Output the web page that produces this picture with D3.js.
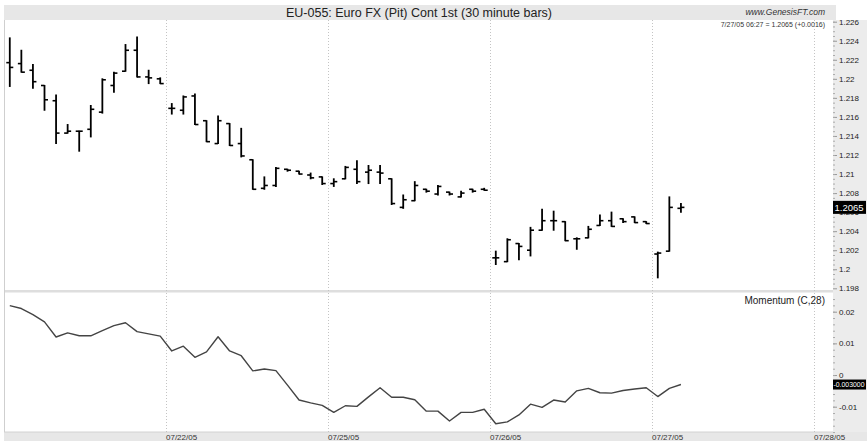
<!DOCTYPE html>
<html>
<head>
<meta charset="utf-8">
<script src="https://d3js.org/d3.v7.min.js"></script>
<style>
body { margin: 0; background: #fff; }
text { font-family: "Liberation Sans", Arial, Helvetica, sans-serif; }
</style>
</head>
<body>
<div id="chart"></div>
<script>
// 30 minute bars, 14 per session
const sessionBars = 14;
const dayLabels = ["07/21/05", "07/22/05", "07/25/05", "07/26/05", "07/27/05", "07/28/05"];

const opens = [1.2217, 1.2216, 1.2209, 1.2193, 1.2177, 1.2143, 1.2145, 1.2147, 1.2165, 1.2193, 1.2208, 1.2230, 1.2202, 1.2200,
    1.2169, 1.2167, 1.2182, 1.2156, 1.2132, 1.2153, 1.2132, 1.2115, 1.2085, 1.2088, 1.2105, 1.2103, 1.2099, 1.2097,
    1.2090, 1.2095, 1.2105, 1.2102, 1.2102, 1.2095, 1.2065, 1.2072, 1.2084, 1.2079, 1.2081, 1.2076, 1.2084, 1.2084,
    1.2012, 1.2008, 1.2027, 1.2020, 1.2041, 1.2051, 1.2050, 1.2032, 1.2033, 1.2046, 1.2051, 1.2053, 1.2055, 1.2050,
    1.2016, 1.2019, 1.2064];
const highs = [1.2243, 1.2230, 1.2215, 1.2193, 1.2183, 1.2152, 1.2145, 1.2172, 1.2200, 1.2207, 1.2236, 1.2244, 1.2209, 1.2201,
    1.2174, 1.2182, 1.2184, 1.2156, 1.2161, 1.2153, 1.2148, 1.2115, 1.2097, 1.2107, 1.2105, 1.2103, 1.2101, 1.2097,
    1.2095, 1.2108, 1.2114, 1.2109, 1.2109, 1.2095, 1.2078, 1.2092, 1.2084, 1.2088, 1.2081, 1.2082, 1.2084, 1.2085,
    1.2019, 1.2032, 1.2027, 1.2044, 1.2063, 1.2061, 1.2050, 1.2033, 1.2045, 1.2057, 1.2060, 1.2053, 1.2055, 1.2050,
    1.2018, 1.2076, 1.2069];
const lows = [1.2192, 1.2207, 1.2190, 1.2167, 1.2132, 1.2143, 1.2124, 1.2139, 1.2164, 1.2186, 1.2208, 1.2202, 1.2195, 1.2195,
    1.2163, 1.2163, 1.2152, 1.2134, 1.2132, 1.2130, 1.2118, 1.2084, 1.2084, 1.2087, 1.2103, 1.2100, 1.2095, 1.2089,
    1.2087, 1.2095, 1.2090, 1.2090, 1.2090, 1.2068, 1.2064, 1.2072, 1.2081, 1.2078, 1.2078, 1.2076, 1.2081, 1.2083,
    1.2005, 1.2008, 1.2010, 1.2014, 1.2041, 1.2041, 1.2030, 1.2021, 1.2033, 1.2046, 1.2045, 1.2049, 1.2049, 1.2048,
    1.1991, 1.2019, 1.2060];
const closes = [1.2212, 1.2207, 1.2197, 1.2178, 1.2143, 1.2145, 1.2145, 1.2168, 1.2199, 1.2206, 1.2230, 1.2202, 1.2201, 1.2195,
    1.2169, 1.2181, 1.2152, 1.2134, 1.2156, 1.2130, 1.2119, 1.2084, 1.2088, 1.2106, 1.2104, 1.2100, 1.2096, 1.2090,
    1.2092, 1.2107, 1.2092, 1.2104, 1.2101, 1.2069, 1.2073, 1.2088, 1.2082, 1.2087, 1.2079, 1.2080, 1.2082, 1.2083,
    1.2012, 1.2031, 1.2024, 1.2041, 1.2051, 1.2051, 1.2030, 1.2032, 1.2042, 1.2051, 1.2045, 1.2050, 1.2049, 1.2048,
    1.2017, 1.2065, 1.2065];

// Momentum (C,28)
const momentum = [0.0219, 0.0210, 0.0191, 0.0168, 0.0120, 0.0133, 0.0124, 0.0124, 0.0140, 0.0156, 0.0165, 0.0137, 0.0130, 0.0123,
    0.0076, 0.0091, 0.0056, 0.0073, 0.0121, 0.0076, 0.0061, 0.0013, 0.0019, 0.0014, -0.0032, -0.0079, -0.0088, -0.0096,
    -0.0118, -0.0097, -0.0099, -0.0069, -0.0040, -0.0070, -0.0070, -0.0078, -0.0114, -0.0114, -0.0145, -0.0118, -0.0118, -0.0108,
    -0.0154, -0.0148, -0.0126, -0.0092, -0.0102, -0.0079, -0.0085, -0.0050, -0.0042, -0.0056, -0.0057, -0.0049, -0.0044, -0.0040,
    -0.0068, -0.0042, -0.0030];

const priceTicks = [1.198, 1.2, 1.202, 1.204, 1.206, 1.208, 1.21, 1.212, 1.214, 1.216, 1.218, 1.22, 1.222, 1.224, 1.226];
const momTicks = [-0.01, 0, 0.01, 0.02];
const lastPrice = 1.2065;
const lastMom = -0.003;

const svg = d3.select("#chart")
    .append("svg")
    .attr("width", 867)
    .attr("height", 441);

// scales
const x = d3.scaleLinear().domain([0, sessionBars * 5]).range([4, 814]);
const y = d3.scaleLinear().domain([1.198, 1.226]).range([288.3, 21.7]);
const ym = d3.scaleLinear().domain([-0.01, 0.02]).range([406.7, 311.7]);

// backgrounds
svg.append("rect").attr("x", 4).attr("y", 5).attr("width", 832).attr("height", 15).attr("fill", "#e7e7e7");
svg.append("rect").attr("x", 833).attr("y", 20).attr("width", 34).attr("height", 421).attr("fill", "#ececec");
svg.append("rect").attr("x", 4).attr("y", 290).attr("width", 829).attr("height", 2.5).attr("fill", "#dedede");
svg.append("rect").attr("x", 4).attr("y", 432).attr("width", 863).attr("height", 9).attr("fill", "#e7e7e7");
svg.append("line").attr("x1", 4).attr("x2", 833).attr("y1", 432).attr("y2", 432).attr("stroke", "#d2d2d2");
svg.append("line").attr("x1", 4.5).attr("x2", 4.5).attr("y1", 20).attr("y2", 432).attr("stroke", "#cfcfcf");

// day grid lines + labels
const days = dayLabels.map((d, i) => ({ label: d, idx: i * sessionBars })).filter(d => d.idx > 0);

svg.append("g")
    .selectAll("line")
    .data(days)
    .enter().append("line")
    .attr("x1", d => x(d.idx) + 0.5)
    .attr("x2", d => x(d.idx) + 0.5)
    .attr("y1", 20)
    .attr("y2", 432)
    .attr("stroke", "#c4c4c4")
    .attr("stroke-dasharray", "1,2");

svg.append("g")
    .selectAll("text")
    .data(days)
    .enter().append("text")
    .attr("x", d => x(d.idx))
    .attr("y", 440)
    .style("font-size", "8px")
    .attr("fill", "#333")
    .text(d => d.label);

// price axis
const priceAxis = svg.append("g")
    .attr("transform", "translate(833,0)")
    .call(d3.axisRight(y).tickValues(priceTicks).tickSize(4).tickPadding(2)
        .tickFormat(d => String(+d.toFixed(3))));
svg.append("g")
    .attr("transform", "translate(833,0)")
    .call(d3.axisRight(y).tickValues(d3.range(1.1985, 1.2262, 0.0005)).tickSize(2).tickFormat(""))
    .call(g => g.select(".domain").remove())
    .selectAll("line").attr("stroke", "#aaa");

const momAxis = svg.append("g")
    .attr("transform", "translate(833,0)")
    .call(d3.axisRight(ym).tickValues(momTicks).tickSize(4).tickPadding(2)
        .tickFormat(d => String(+d.toFixed(2))));
svg.append("g")
    .attr("transform", "translate(833,0)")
    .call(d3.axisRight(ym).tickValues(d3.range(-0.018, 0.0241, 0.002)).tickSize(2).tickFormat(""))
    .call(g => g.select(".domain").remove())
    .selectAll("line").attr("stroke", "#aaa");

[priceAxis, momAxis].forEach(g => {
    g.select(".domain").remove();
    g.selectAll("line").attr("stroke", "#999");
    g.selectAll("text").attr("fill", "#222").style("font-size", "8px")
        .style("font-family", "\"Liberation Sans\", Arial, sans-serif");
});

// OHLC bars
const bars = d3.range(opens.length).map(i => ({ i: i, o: opens[i], h: highs[i], l: lows[i], c: closes[i] }));
const barG = svg.append("g")
    .selectAll("g")
    .data(bars)
    .enter().append("g")
    .attr("stroke", "#000");

barG.append("line")
    .attr("x1", d => x(d.i + 0.5)).attr("x2", d => x(d.i + 0.5))
    .attr("y1", d => y(d.h) - 0.5).attr("y2", d => y(d.l) + 0.5)
    .attr("stroke-width", 1.8);
barG.append("line")
    .attr("x1", d => x(d.i + 0.5) - 3.5).attr("x2", d => x(d.i + 0.5))
    .attr("y1", d => y(d.o)).attr("y2", d => y(d.o))
    .attr("stroke-width", 1.6);
barG.append("line")
    .attr("x1", d => x(d.i + 0.5)).attr("x2", d => x(d.i + 0.5) + 3.5)
    .attr("y1", d => y(d.c)).attr("y2", d => y(d.c))
    .attr("stroke-width", 1.6);

// momentum line
svg.append("path")
    .datum(momentum)
    .attr("fill", "none")
    .attr("stroke", "#444")
    .attr("stroke-width", 1.4)
    .attr("stroke-linejoin", "round")
    .attr("d", d3.line().x((d, i) => x(i + 0.5)).y(d => ym(d)));

// last value boxes
svg.append("rect").attr("x", 833).attr("y", y(lastPrice) - 6.5).attr("width", 33).attr("height", 13).attr("fill", "#000");
svg.append("text").attr("x", 834.5).attr("y", y(lastPrice) + 3.3)
    .style("font-size", "9.5px").attr("fill", "#fff").text(lastPrice.toFixed(4));
svg.append("rect").attr("x", 833).attr("y", ym(lastMom) - 5).attr("width", 33).attr("height", 10).attr("fill", "#000");
svg.append("text").attr("x", 833.5).attr("y", ym(lastMom) + 2.6)
    .attr("textLength", 31).attr("lengthAdjust", "spacingAndGlyphs")
    .style("font-size", "7.5px").attr("fill", "#fff").text(lastMom.toFixed(6));

// header texts
svg.append("text").attr("x", 419).attr("y", 17).attr("text-anchor", "middle")
    .style("font-size", "12.5px").attr("fill", "#222")
    .text("EU-055: Euro FX (Pit) Cont 1st (30 minute bars)");
svg.append("text").attr("x", 825).attr("y", 15).attr("text-anchor", "end")
    .style("font-size", "8.5px").style("font-style", "italic").attr("fill", "#333")
    .text("www.GenesisFT.com");
svg.append("text").attr("x", 825).attr("y", 26.5).attr("text-anchor", "end")
    .style("font-size", "7px").attr("fill", "#333")
    .text("7/27/05 06:27 = " + lastPrice.toFixed(4) + " (+0.0016)");
svg.append("text").attr("x", 825).attr("y", 303.5).attr("text-anchor", "end")
    .style("font-size", "10px").attr("fill", "#222")
    .text("Momentum (C,28)");
</script>
</body>
</html>
